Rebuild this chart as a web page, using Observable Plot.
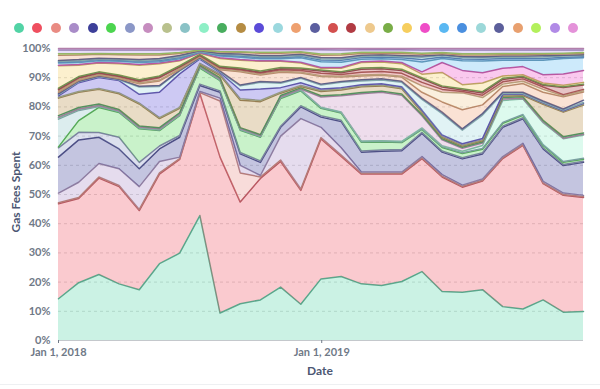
<!DOCTYPE html>
<html><head><meta charset="utf-8">
<script src="https://cdn.jsdelivr.net/npm/d3@7"></script>
<script src="https://cdn.jsdelivr.net/npm/@observablehq/plot@0.6"></script>
<style>
body{margin:0;background:#fff;font-family:Lato,"Noto Sans",sans-serif;}
#wrap{position:relative;width:600px;height:389px;overflow:hidden;background:#fff;}
#legend{position:absolute;left:14px;top:23px;display:flex;}
#legend span{width:10px;height:10px;border-radius:50%;margin-right:8.47px;display:block;}
#chart{position:absolute;left:0;top:40px;}
#chart svg text{font-weight:700;}
#ylabel{position:absolute;left:15px;top:192px;transform:translate(-50%,-50%) rotate(-90deg);font-weight:700;font-size:12px;color:#4c5773;white-space:nowrap;}
#xlabel{position:absolute;left:320px;top:370px;transform:translate(-50%,-50%);font-weight:700;font-size:12px;color:#4c5773;}
#foot{position:absolute;left:0;top:384px;width:600px;border-top:1px solid #eef0f2;}
</style></head>
<body>
<div id="wrap">
  <div id="legend"></div>
  <div id="chart"></div>
  <div id="ylabel">Gas Fees Spent</div>
  <div id="xlabel">Date</div>
  <div id="foot"></div>
</div>
<script>
const dates = ["2018-01-01","2018-01-29","2018-02-26","2018-03-26","2018-04-23","2018-05-21","2018-06-18","2018-07-16","2018-08-13","2018-09-10","2018-10-08","2018-11-05","2018-12-03","2018-12-31","2019-01-28","2019-02-25","2019-03-25","2019-04-22","2019-05-20","2019-06-17","2019-07-15","2019-08-12","2019-09-09","2019-10-07","2019-11-04","2019-12-02","2019-12-30"];

const s1 = [14.3,19.8,22.6,19.4,17.4,26.3,29.9,42.8,9.4,12.6,13.9,18.3,12.4,21.1,21.9,19.4,18.8,20.2,23.6,16.8,16.5,17.4,11.6,10.8,13.9,9.7,9.9];
const s2 = [32.5,28.8,33,33.3,27.1,30.7,32.1,41.8,53.4,34.8,41.6,43,39,47.9,41.1,37.6,38.2,36.8,38.7,39.2,36,37.2,50.7,56,39.8,40,39.1];
const s3 = [0.4,0.4,0.4,0.4,0.4,0.4,0.3,0.3,19.2,10,0.5,0.5,0.5,0.5,0.5,0.3,0.3,0.3,0.3,0.3,0.3,0.3,0.3,0.3,0.3,0.3,0.3];
const s4 = [3.3,5.2,4.6,5.7,7.8,3.9,0.5,0.4,1,2.6,0.5,8.2,24.1,3.5,2.5,0.4,0.4,0.4,0.4,0.5,0.4,0.4,0.4,0.4,0.5,0.5,0.4];
const s5 = [12.3,14.5,9,6.8,6.1,4.3,6.8,2,2,3.9,4.5,3,4,3.5,9,6.8,7.1,7.3,7.9,7.7,9,8.6,10,8.4,11.1,9.4,11.3];
const s6 = [0.3,4,8.6,8.5,11.5,5.3,6.8,5.5,3.5,7.6,8.1,9.5,5.1,2.5,2.5,3,2.8,2.4,1,1.2,1.4,1.2,1,0.8,0.8,0.7,0.7];
const s7 = [3.2,2.6,1.6,4,2.2,1,0.6,0.5,0.5,0.5,0.5,0.4,0.4,0.5,0.4,0.4,0.4,0.4,0.4,0.4,0.4,0.4,0.4,0.4,0.4,0.4,0.4];
const s8 = [0.3,0.2,0.2,0.2,0.2,0.2,0.2,0.2,0.2,0.2,0.2,0.2,0.2,3.5,5.5,16.2,16.6,15.8,4.2,2,1,0.8,0.5,0.3,0.3,0.2,0.2];
const s9 = [0.3,0.3,0.3,0.3,0.3,0.3,0.3,0.2,0.4,0.5,0.4,0.3,0.3,0.3,0.3,0.3,0.3,0.3,0.3,0.3,0.3,0.3,0.3,0.3,0.3,0.3,0.3];
const s10 = [9.5,3.5,0.3,0.2,0.2,0.2,0.2,0.2,0.2,0.2,0.2,0.2,0.2,0.2,0.2,0.2,0.2,0.2,0.2,0.3,0.3,0.3,0.3,0.3,0.3,0.3,0.3];
const s11 = [0.4,0.3,0.2,0.2,0.2,0.2,0.2,0.2,0.2,0.2,0.2,0.2,0.2,0.2,0.2,0.2,0.2,0.2,0.3,0.3,0.5,1,7.5,5.3,7.5,7.8,8];
const s12 = [0.5,0.5,0.5,0.4,0.4,0.4,0.4,0.3,0.4,0.3,0.3,0.4,0.4,0.4,0.4,0.4,0.4,0.4,0.4,0.4,0.4,0.4,0.5,0.5,0.5,0.5,0.5];
const s13 = [6,5.2,5,5.4,7.5,3.1,1.5,0.5,0.8,9.4,11.3,0.8,0.5,1.5,1.6,2,1.8,1.8,0.8,0.5,0.4,0.4,0.5,0.4,5.5,8.4,9.5];
const s14 = [0.5,3,3.8,4.2,3,8.7,11.5,1.5,0.6,3,3.9,1.6,1,0.5,0.5,0.4,0.4,0.4,0.4,0.5,0.5,0.5,0.3,0.2,0.2,0.2,0.3];
const s15 = [0.4,0.3,0.3,0.3,2.5,2,1,0.3,0.3,1.4,2.3,1.5,1.5,1.4,1.8,1.3,1.3,1.5,3.7,7.3,4.6,8,0.3,0.2,0.2,0.2,0.3];
const s16 = [0.5,0.3,0.2,0.2,0.8,1.6,0.3,0.2,0.4,4.5,2.2,3.5,1.5,2.6,1.5,1.3,1.2,1.4,2,3.5,6.5,3,2,3,3,4.2,2.8];
const s17 = [0.3,0.2,0.2,0.2,0.3,0.3,0.2,0.2,0.2,0.3,0.3,0.3,0.3,0.3,0.3,0.4,0.4,0.4,0.4,0.5,0.5,0.5,0.4,0.4,0.4,0.4,0.8];
const s18 = [0.5,0.5,0.4,0.4,0.5,0.8,0.5,0.3,0.4,0.4,0.4,0.5,0.6,0.8,0.6,1,1,1,1.2,1,0.5,0.8,0.8,0.8,0.8,0.4,0.5];
const s19 = [0.3,0.2,0.2,0.2,0.3,0.3,0.2,0.2,0.2,0.3,0.3,0.4,0.5,0.8,0.6,1,1,1,1.2,0.8,0.5,0.8,0.8,0.6,0.6,2.4,1.5];
const s20 = [0.3,0.3,0.3,0.3,0.3,0.3,0.3,0.2,0.3,0.3,0.3,0.3,0.3,0.3,0.3,0.3,0.3,0.3,2.2,3.3,5.8,2.5,0.8,0.8,1,0.3,0.4];
const s21 = [0.3,0.3,0.3,0.3,0.3,0.3,0.3,0.2,0.3,0.3,0.4,0.4,0.3,0.3,0.3,0.4,0.4,0.4,0.4,0.4,0.4,0.4,0.4,0.3,0.3,0.3,0.3];
const s22 = [7.7,3.9,3,3.9,5,4.2,1.7,0.4,2.7,2.7,3.3,2.1,1.7,0.6,1.2,1.9,1.9,1.9,1.2,4.6,1.4,3,0.8,0.5,0.5,0.5,0.6];
const s23 = [0.2,0.2,0.2,0.2,0.2,0.2,0.2,0.1,0.2,0.2,0.2,0.2,0.3,0.3,0.3,0.3,0.3,0.4,0.8,3.4,4.9,3.5,2.6,2.8,2.8,3.9,4.1];
const s24 = [0.7,0.7,0.6,0.6,0.7,0.5,0.5,0.2,0.6,0.8,0.7,0.7,1.5,2,1.8,0.8,0.8,1,3.4,1.4,3.3,4,2.8,2.2,5,5.3,4.3];
const s25 = [0.4,0.4,0.4,0.4,0.4,0.4,0.4,0.2,0.4,0.4,0.4,0.4,0.5,0.6,0.7,0.6,0.6,0.6,0.8,0.5,0.6,0.6,0.6,0.6,0.6,0.4,0.4];
const s26 = [0.2,0.2,0.2,0.2,0.2,0.3,0.3,0.1,0.2,0.3,0.3,0.3,0.3,0.4,0.4,0.4,0.4,0.4,0.8,0.5,0.5,0.5,0.4,0.4,0.5,0.4,0.4];
const s27 = [0.3,0.4,0.3,0.3,0.4,0.4,0.4,0.2,0.3,0.4,0.4,0.4,0.4,0.4,0.4,0.4,0.4,0.4,0.4,0.3,0.4,0.4,0.4,0.4,0.4,0.3,0.3];
const s28 = [1.8,1.6,1.3,1.4,1.6,1.2,0.7,0.2,0.5,0.6,0.8,0.8,0.6,0.8,1,0.6,0.5,0.7,0.6,0.4,0.5,0.6,0.5,0.5,0.5,0.4,0.4];
const s29 = [0.5,0.4,0.3,0.3,0.4,0.4,0.3,0.1,0.2,0.2,0.3,0.3,0.3,0.4,0.4,0.4,0.3,0.4,0.4,0.3,0.4,0.4,0.4,0.4,0.3,0.3,0.3];
const s30 = [1.3,1.3,1.2,1.3,1.3,1.3,1,0.3,0.7,0.8,1,1,0.8,1.5,1.3,0.9,0.9,0.9,1.1,0.9,1.3,1.3,1.2,1.2,1.2,1.1,0.9];
const s31 = [0.5,0.5,0.5,0.5,0.5,0.5,0.4,0.2,0.3,0.3,0.3,0.3,0.3,0.4,0.5,0.4,0.4,0.4,0.5,0.5,0.5,0.5,0.5,0.5,0.5,0.5,0.5];

const legendOrder = ["s1","s2","s3","s4","s5","s6","s7","s8","s9","s10","s11","s12","s13","s14","s15","s16","s17","s18","s19","s20","s21","s22","s23","s24","s25","s26","s27","s28","s29","s30","s31"];
const colors = ["#52d3a5","#ef4f5f","#e98b83","#a98cc8","#3d3f99","#4cd54f","#8b97c7","#c68dbf","#b9c18d","#8ac2c6","#8eefc6","#48ad5e","#b58c43","#5b4bd8","#9bd8de","#eea06f","#5b5e9f","#d3504f","#b13b43","#eec98d","#79ad47","#f6ce5e","#ef4dc7","#5ab8f2","#4a8fdf","#9cd8d9","#5c5f9b","#e8a06f","#b3f05c","#b18ae6","#e492d9"];
const stackOrder = ["s1","s2","s3","s4","s5","s7","s6","s10","s11","s8","s12","s13","s9","s14","s15","s17","s16","s20","s18","s19","s21","s22","s23","s24","s25","s26","s27","s28","s29","s30","s31"];
const yTicks = [0,0.1,0.2,0.3,0.4,0.5,0.6,0.7,0.8,0.9,1];
const xTicks = ["2018-01-01","2019-01-01"];

const seriesValues = {s1,s2,s3,s4,s5,s6,s7,s8,s9,s10,s11,s12,s13,s14,s15,s16,s17,s18,s19,s20,s21,s22,s23,s24,s25,s26,s27,s28,s29,s30,s31};
const colorOf = Object.fromEntries(legendOrder.map((k, i) => [k, colors[i]]));
const lineOf = Object.fromEntries(legendOrder.map((k, i) => [k, d3.interpolateRgb(colors[i], "#666666")(0.4)]));
const data = stackOrder.flatMap(k => seriesValues[k].map((v, i) => ({date: new Date(dates[i]), key: k, value: v})));

const legend = document.getElementById("legend");
legendOrder.forEach(k => {
  const s = document.createElement("span");
  s.style.background = colorOf[k];
  s.title = k;
  legend.appendChild(s);
});

const base = {x: "date", y: "value", z: "key", order: stackOrder, offset: "normalize"};
const seriesMarks = stackOrder.flatMap(k => [
  Plot.areaY(data, Plot.filter(d => d.key === k, Plot.stackY({...base, fill: colorOf[k], fillOpacity: 0.3}))),
  Plot.lineY(data, Plot.filter(d => d.key === k, Plot.stackY2({...base, stroke: lineOf[k], strokeWidth: 1.5})))
]);

const chart = Plot.plot({
  width: 600, height: 349,
  marginTop: 8, marginRight: 17, marginBottom: 49, marginLeft: 58,
  x: {type: "utc", domain: [new Date(dates[0]), new Date(dates[dates.length - 1])]},
  y: {domain: [0, 1]},
  style: {fontFamily: "Lato, 'Noto Sans', sans-serif", background: "transparent", overflow: "visible"},
  marks: [
    Plot.gridY(yTicks.slice(1), {stroke: "#d9d9d9", strokeOpacity: 1, strokeDasharray: "3,3"}),
    ...seriesMarks,
    Plot.ruleY([0], {stroke: "#c4c8cc"}),
    Plot.axisY(yTicks, {tickSize: 0, tickPadding: 8, tickFormat: d3.format(".0%"), label: null, fontSize: 11, color: "#6f7987"}),
    Plot.axisX(xTicks.map(d => new Date(d)), {tickSize: 3, tickPadding: 5, tickFormat: d3.utcFormat("%b %-d, %Y"), label: null, fontSize: 11, color: "#6f7987"})
  ]
});
document.getElementById("chart").appendChild(chart);
</script>
</body></html>
